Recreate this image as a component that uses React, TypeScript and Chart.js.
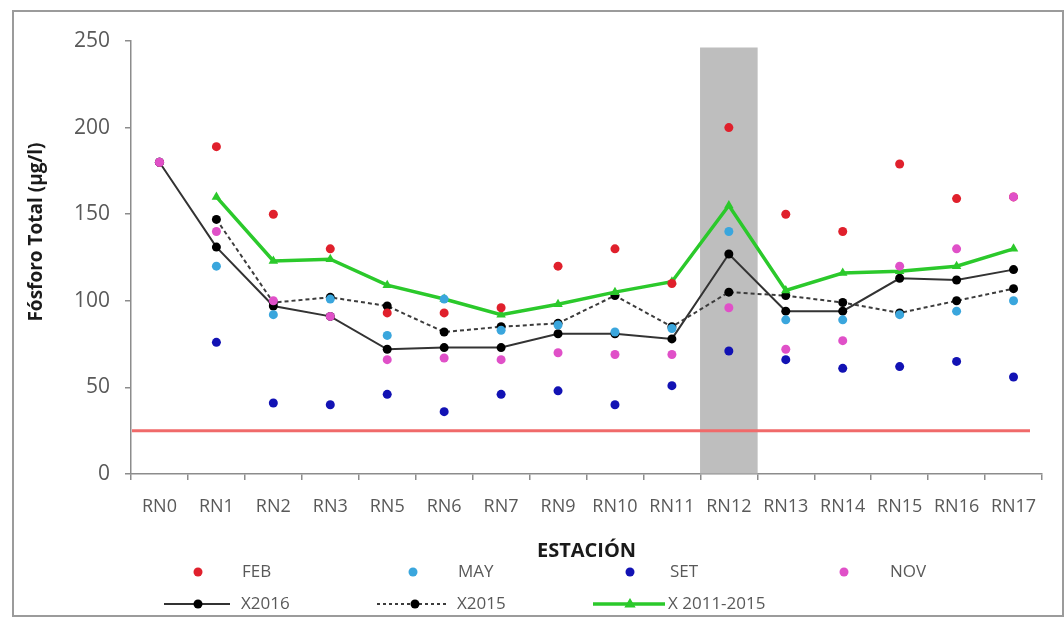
import React, { useEffect, useRef } from "react";
import { Chart, registerables } from "chart.js";

Chart.register(...registerables);

// ---------- data ----------
const categories = ["RN0", "RN1", "RN2", "RN3", "RN5", "RN6", "RN7", "RN9", "RN10", "RN11", "RN12", "RN13", "RN14", "RN15", "RN16", "RN17"];

const febValues = [180, 189, 150, 130, 93, 93, 96, 120, 130, 110, 200, 150, 140, 179, 159, 160];
const mayValues = [180, 120, 92, 101, 80, 101, 83, 86, 82, 84, 140, 89, 89, 92, 94, 100];
const setValues = [180, 76, 41, 40, 46, 36, 46, 48, 40, 51, 71, 66, 61, 62, 65, 56];
const novValues = [180, 140, 100, 91, 66, 67, 66, 70, 69, 69, 96, 72, 77, 120, 130, 160];

const x2016Values = [180, 131, 97, 91, 72, 73, 73, 81, 81, 78, 127, 94, 94, 113, 112, 118];
const x2015Values = [null, 147, 99, 102, 97, 82, 85, 87, 103, 85, 105, 103, 99, 93, 100, 107];
const x20112015Values = [null, 160, 123, 124, 109, 101, 92, 98, 105, 111, 155, 106, 116, 117, 120, 130];

// shaded highlight column (RN12)
const bandValues = [null, null, null, null, null, null, null, null, null, null, 246, null, null, null, null, null];

// horizontal reference limit
const limitValue = 25;

const yMin = 0;
const yMax = 250;
const yStep = 50;

const yTitle = "Fósforo Total (µg/l)";
const xTitle = "ESTACIÓN";

// ---------- styling ----------
const FONT = "'Open Sans', sans-serif";
const TICK_COLOR = "#595959";
const AXIS_COLOR = "#8c8c8c";

const COLORS = {
  feb: "#e0202c",
  may: "#3aa6dd",
  set: "#1212b4",
  nov: "#e050c8",
  x2016: "#333333",
  x2015: "#3c3c3c",
  green: "#2bc92b",
  band: "#bebebe",
  limit: "#f06a6a",
};

const CANVAS_W = 1048;
const CANVAS_H = 603;

type LegendItem = {
  label: string;
  kind: "dot" | "line" | "dash" | "triangle";
  color: string;
  markerColor: string;
  markerX: number;
  lineFrom?: number;
  lineTo?: number;
  textX: number;
  y: number;
};

const legendItems: LegendItem[] = [
  { label: "FEB", kind: "dot", color: COLORS.feb, markerColor: COLORS.feb, markerX: 184, textX: 228, y: 560 },
  { label: "MAY", kind: "dot", color: COLORS.may, markerColor: COLORS.may, markerX: 399, textX: 444, y: 560 },
  { label: "SET", kind: "dot", color: COLORS.set, markerColor: COLORS.set, markerX: 616, textX: 656, y: 560 },
  { label: "NOV", kind: "dot", color: COLORS.nov, markerColor: COLORS.nov, markerX: 830, textX: 876, y: 560 },
  { label: "X2016", kind: "line", color: COLORS.x2016, markerColor: "#000000", markerX: 184, lineFrom: 150, lineTo: 216, textX: 227, y: 592 },
  { label: "X2015", kind: "dash", color: COLORS.x2015, markerColor: "#000000", markerX: 401, lineFrom: 363, lineTo: 434, textX: 443, y: 592 },
  { label: "X 2011-2015", kind: "triangle", color: COLORS.green, markerColor: COLORS.green, markerX: 616, lineFrom: 579, lineTo: 651, textX: 654, y: 592 },
];

function drawTriangle(ctx: CanvasRenderingContext2D, x: number, y: number, r: number) {
  ctx.beginPath();
  ctx.moveTo(x, y - r);
  ctx.lineTo(x + r * 0.95, y + r * 0.6);
  ctx.lineTo(x - r * 0.95, y + r * 0.6);
  ctx.closePath();
  ctx.fill();
}

const decorPlugin = {
  id: "decor",
  afterDatasetsDraw(chart: any) {
    const { ctx, chartArea, scales } = chart;
    const y = scales.y.getPixelForValue(limitValue);
    ctx.save();
    ctx.strokeStyle = COLORS.limit;
    ctx.lineWidth = 3;
    ctx.beginPath();
    ctx.moveTo(chartArea.left + 1, y);
    ctx.lineTo(chartArea.right - 12, y);
    ctx.stroke();
    ctx.restore();
  },
  afterDraw(chart: any) {
    const { ctx } = chart;
    // y axis title
    ctx.save();
    ctx.translate(23, 220);
    ctx.rotate(-Math.PI / 2);
    ctx.font = `bold 19px ${FONT}`;
    ctx.fillStyle = "#1a1a1a";
    ctx.textAlign = "center";
    ctx.textBaseline = "middle";
    ctx.fillText(yTitle, 0, 0);
    ctx.restore();

    // legend
    ctx.save();
    ctx.font = `17px ${FONT}`;
    ctx.textBaseline = "middle";
    ctx.textAlign = "left";
    for (const it of legendItems) {
      if (it.kind !== "dot") {
        ctx.strokeStyle = it.color;
        ctx.lineWidth = it.kind === "triangle" ? 3.5 : 2;
        ctx.setLineDash(it.kind === "dash" ? [3, 3] : []);
        ctx.beginPath();
        ctx.moveTo(it.lineFrom!, it.y);
        ctx.lineTo(it.lineTo!, it.y);
        ctx.stroke();
        ctx.setLineDash([]);
      }
      ctx.fillStyle = it.markerColor;
      if (it.kind === "triangle") {
        drawTriangle(ctx, it.markerX, it.y, 6);
      } else {
        ctx.beginPath();
        ctx.arc(it.markerX, it.y, 4.5, 0, Math.PI * 2);
        ctx.fill();
      }
      ctx.fillStyle = TICK_COLOR;
      ctx.fillText(it.label, it.textX, it.y);
    }
    ctx.restore();
  },
};

function scatterDataset(label: string, data: (number | null)[], color: string, order: number) {
  return {
    type: "line" as const,
    label,
    data,
    showLine: false,
    borderColor: color,
    backgroundColor: color,
    pointBackgroundColor: color,
    pointBorderColor: color,
    pointRadius: 4.5,
    pointBorderWidth: 0,
    order,
  };
}

export default function App() {
  const canvasRef = useRef<HTMLCanvasElement | null>(null);

  useEffect(() => {
    if (!canvasRef.current) return;
    const chart = new Chart(canvasRef.current, {
      type: "line",
      data: {
        labels: categories,
        datasets: [
          scatterDataset("NOV", novValues, COLORS.nov, 0),
          scatterDataset("FEB", febValues, COLORS.feb, 1),
          scatterDataset("MAY", mayValues, COLORS.may, 2),
          scatterDataset("SET", setValues, COLORS.set, 3),
          {
            type: "line",
            label: "X 2011-2015",
            data: x20112015Values,
            borderColor: COLORS.green,
            backgroundColor: COLORS.green,
            borderWidth: 3.5,
            pointStyle: "triangle",
            pointRadius: 5.5,
            pointBackgroundColor: COLORS.green,
            pointBorderColor: COLORS.green,
            pointBorderWidth: 0,
            tension: 0,
            spanGaps: false,
            order: 4,
          },
          {
            type: "line",
            label: "X2015",
            data: x2015Values,
            borderColor: COLORS.x2015,
            backgroundColor: "#000000",
            borderWidth: 2,
            borderDash: [4, 3],
            pointRadius: 4.5,
            pointBackgroundColor: "#000000",
            pointBorderColor: "#000000",
            pointBorderWidth: 0,
            tension: 0,
            order: 5,
          },
          {
            type: "line",
            label: "X2016",
            data: x2016Values,
            borderColor: COLORS.x2016,
            backgroundColor: "#000000",
            borderWidth: 2,
            pointRadius: 4.5,
            pointBackgroundColor: "#000000",
            pointBorderColor: "#000000",
            pointBorderWidth: 0,
            tension: 0,
            order: 6,
          },
          {
            type: "bar",
            label: "band",
            data: bandValues,
            backgroundColor: COLORS.band,
            borderWidth: 0,
            barPercentage: 1,
            categoryPercentage: 1,
            order: 10,
          } as any,
        ],
      },
      options: {
        responsive: false,
        animation: false,
        layout: { padding: { top: 29, right: 20, left: 0, bottom: 0 } },
        plugins: {
          legend: { display: false },
          tooltip: { enabled: false },
        },
        scales: {
          x: {
            type: "category",
            offset: true,
            grid: {
              offset: true,
              drawOnChartArea: false,
              drawTicks: true,
              tickLength: 6,
              color: AXIS_COLOR,
              lineWidth: 1.5,
            },
            border: { color: AXIS_COLOR, width: 1.5 },
            ticks: {
              color: TICK_COLOR,
              font: { family: FONT, size: 18 },
              padding: 16,
              autoSkip: false,
              maxRotation: 0,
              minRotation: 0,
            },
            title: {
              display: true,
              text: xTitle,
              color: "#1a1a1a",
              font: { family: FONT, size: 20, weight: "bold" },
              padding: { top: 0, bottom: 52 },
            },
            afterFit: (scale: any) => {
              scale.height = CANVAS_H - 462;
            },
          },
          y: {
            min: yMin,
            max: yMax,
            ticks: {
              stepSize: yStep,
              color: TICK_COLOR,
              font: { family: FONT, size: 21 },
              padding: 15,
            },
            grid: {
              drawOnChartArea: false,
              drawTicks: true,
              tickLength: 6,
              color: AXIS_COLOR,
              lineWidth: 1.5,
            },
            border: { color: AXIS_COLOR, width: 1.5 },
            afterFit: (scale: any) => {
              scale.width = 117;
            },
          },
        },
      },
      plugins: [decorPlugin],
    } as any);
    return () => chart.destroy();
  }, []);

  return (
    <div
      style={{
        position: "absolute",
        left: 12,
        top: 10,
        width: 1052,
        height: 607,
        border: "2px solid #9b9b9b",
        boxSizing: "border-box",
        background: "#ffffff",
      }}
    >
      <canvas ref={canvasRef} width={CANVAS_W} height={CANVAS_H} style={{ display: "block" }} />
    </div>
  );
}
